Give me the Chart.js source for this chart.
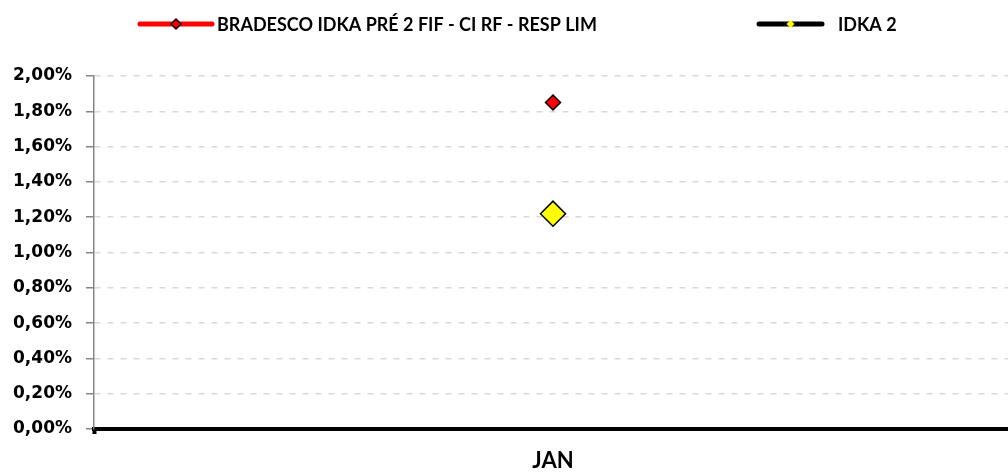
<!DOCTYPE html>
<html>
<head>
<meta charset="utf-8">
<script src="https://cdn.jsdelivr.net/npm/chart.js@4.4.1/dist/chart.umd.min.js"></script>
<style>
    html, body { margin: 0; padding: 0; background: #fff; overflow: hidden; }
    #myChart { display: block; }
</style>
</head>
<body>
<canvas id="myChart" width="1012" height="473"></canvas>
<script>
    "use strict";

    // data
    const categories = ['JAN'];
    const fundName = 'BRADESCO IDKA PRÉ 2 FIF - CI RF - RESP LIM';
    const fundValues = [1.85];
    const benchName = 'IDKA 2';
    const benchValues = [1.22];
    const yMin = 0;
    const yMax = 2;
    const yStep = 0.2;

    const FONT = 'Lato, "Open Sans", sans-serif';
    const TICK_FONT = '"DejaVu Sans", sans-serif';

    // Excel-like legend: thick line sample with the marker in the middle
    const lineLegend = {
        id: 'lineLegend',
        afterDraw(chart, args, opts) {
            const ctx = chart.ctx;
            ctx.save();
            chart.data.datasets.forEach((ds, i) => {
                const it = opts.items[i];
                const y = opts.y;
                ctx.strokeStyle = ds.borderColor;
                ctx.lineWidth = 5;
                ctx.lineCap = 'round';
                ctx.beginPath();
                ctx.moveTo(it.x, y);
                ctx.lineTo(it.x + it.len, y);
                ctx.stroke();

                const cx = it.x + it.len / 2;
                ctx.beginPath();
                ctx.moveTo(cx, y - it.r);
                ctx.lineTo(cx + it.r, y);
                ctx.lineTo(cx, y + it.r);
                ctx.lineTo(cx - it.r, y);
                ctx.closePath();
                ctx.fillStyle = ds.pointBackgroundColor;
                ctx.fill();
                if (it.border) {
                    ctx.lineWidth = 1.5;
                    ctx.lineCap = 'butt';
                    ctx.strokeStyle = ds.pointBorderColor;
                    ctx.stroke();
                }

                ctx.fillStyle = '#000';
                ctx.font = 'bold ' + opts.fontSize + 'px ' + FONT;
                ctx.textBaseline = 'middle';
                ctx.textAlign = 'left';
                ctx.fillText(ds.label, it.textX, y + 1);
            });
            ctx.restore();
        }
    };

    const ctx = document.getElementById('myChart').getContext('2d');
    const chart = new Chart(ctx, {
        type: 'line',
        data: {
            labels: categories,
            datasets: [
                {
                    label: fundName,
                    data: fundValues,
                    borderColor: '#ff0000',
                    backgroundColor: '#ff0000',
                    borderWidth: 5,
                    pointStyle: 'rectRot',
                    pointRadius: 7.5,
                    pointBackgroundColor: '#ff0000',
                    pointBorderColor: '#000',
                    pointBorderWidth: 1.5
                },
                {
                    label: benchName,
                    data: benchValues,
                    borderColor: '#000',
                    backgroundColor: '#000',
                    borderWidth: 5,
                    pointStyle: 'rectRot',
                    pointRadius: 12.5,
                    pointBackgroundColor: '#ffff00',
                    pointBorderColor: '#000',
                    pointBorderWidth: 1.5
                }
            ]
        },
        options: {
            responsive: false,
            animation: false,
            devicePixelRatio: 1,
            layout: {
                autoPadding: false,
                padding: { top: 76, left: 0, right: 0, bottom: 0 }
            },
            plugins: {
                legend: { display: false },
                tooltip: { enabled: false },
                lineLegend: {
                    y: 24,
                    fontSize: 18,
                    items: [
                        { x: 140, len: 72, r: 5, textX: 217, border: true },
                        { x: 759, len: 63, r: 4, textX: 838, border: false }
                    ]
                }
            },
            scales: {
                x: {
                    offset: true,
                    ticks: {
                        color: '#000',
                        font: { family: FONT, size: 22, weight: 'bold', lineHeight: 1 },
                        padding: 16
                    },
                    grid: {
                        offset: true,
                        drawOnChartArea: false,
                        tickLength: 5,
                        tickWidth: 4,
                        tickColor: '#000'
                    },
                    border: { color: '#000', width: 4 },
                    afterFit: (s) => { s.height = 44; }
                },
                y: {
                    min: yMin,
                    max: yMax,
                    ticks: {
                        stepSize: yStep,
                        color: '#000',
                        padding: 14,
                        font: { family: TICK_FONT, size: 17, weight: 'bold' },
                        callback: (v) => v.toFixed(2).replace('.', ',') + '%'
                    },
                    grid: {
                        color: (c) => (c.tick && c.tick.value === 0) ? 'rgba(0,0,0,0)' : '#d9d9d9',
                        lineWidth: 1.5,
                        tickLength: 8,
                        tickColor: '#868686',
                        tickWidth: 1.5,
                        tickBorderDash: []
                    },
                    border: { color: '#868686', width: 1.5, dash: [6, 7] },
                    afterFit: (s) => { s.width = 94; }
                }
            }
        },
        plugins: [lineLegend]
    });
</script>
</body>
</html>
